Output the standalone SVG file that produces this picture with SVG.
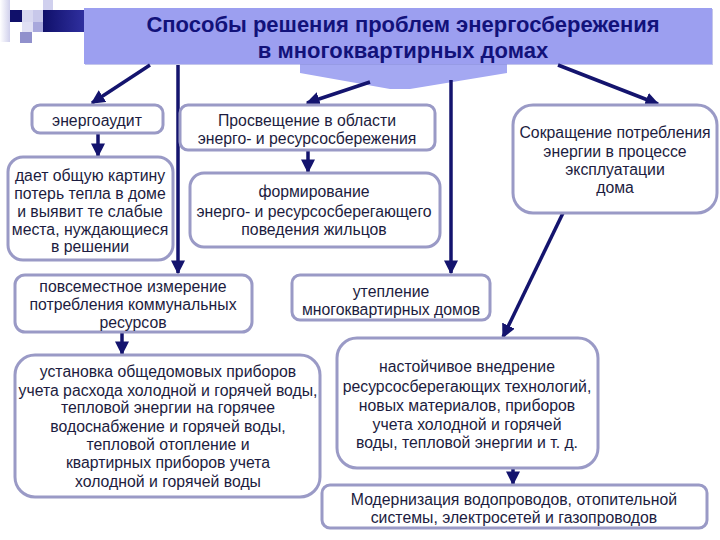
<svg xmlns="http://www.w3.org/2000/svg" width="720" height="540" viewBox="0 0 720 540">
<defs>
<marker id="ah" viewBox="0 0 10 10" refX="9" refY="5" markerWidth="4" markerHeight="4" orient="auto" markerUnits="strokeWidth">
<path d="M0,0 L10,5 L0,10 z" fill="#14146e"/>
</marker>
<linearGradient id="bar" x1="0" y1="0" x2="1" y2="0">
<stop offset="0" stop-color="#10106a"/>
<stop offset="1" stop-color="#3030a0"/>
</linearGradient>
<linearGradient id="fade" x1="0" y1="0" x2="1" y2="0">
<stop offset="0" stop-color="#ffffff"/>
<stop offset="1" stop-color="#d0d0ec"/>
</linearGradient>
</defs>
<style>
.box{fill:#fff;stroke:#9a9ac6;stroke-width:3}
.t{font-family:"Liberation Sans",Arial,sans-serif;font-size:15.8px;fill:#1c1c40;text-anchor:middle}
.title{font-family:"Liberation Sans",Arial,sans-serif;font-size:22px;font-weight:bold;fill:#12127a;text-anchor:middle}
.c{stroke:#14146e;stroke-width:3.5;fill:none;marker-end:url(#ah)}
</style>
<rect width="720" height="540" fill="#fff"/>
<g id="decor">
<rect x="0" y="0" width="10" height="42" fill="url(#fade)"/>
<rect x="10" y="10" width="12" height="12" fill="#10106a"/>
<rect x="22" y="10" width="11" height="12" fill="#d8d8f0"/>
<rect x="33" y="10" width="10" height="12" fill="#c8c8ea"/>
<rect x="43" y="0" width="10" height="10" fill="#d0d0ee"/>
<rect x="43" y="10" width="10" height="12" fill="#b8b8e4"/>
<rect x="22" y="22" width="11" height="10" fill="#e0e0f4"/>
<rect x="33" y="22" width="10" height="10" fill="#a8a8dc"/>
<rect x="20" y="32" width="12" height="11" fill="#9090cc"/>
<rect x="43" y="10" width="42" height="22" fill="url(#bar)"/>
</g>
<g id="title">
<path d="M300,64 L507,64 L507,73 L410,89 L390,89 L300,73 z" fill="#a4a8f2"/>
<rect x="85" y="9" width="628" height="56" fill="#8a8ed8" opacity="0.5"/>
<rect x="84" y="8" width="628" height="56" fill="#9c9ff0"/>
<text class="title" x="403" y="32">Способы решения проблем энергосбережения</text>
<text class="title" x="403" y="58">в многоквартирных домах</text>
</g>
<g id="connectors">
<line class="c" x1="150" y1="65" x2="92" y2="103"/>
<line class="c" x1="178" y1="65" x2="178" y2="273"/>
<line class="c" x1="370" y1="82" x2="307" y2="103"/>
<line class="c" x1="451" y1="80" x2="451" y2="273"/>
<line class="c" x1="558" y1="65" x2="658" y2="104"/>
<line class="c" x1="563" y1="213" x2="503" y2="337"/>
<line class="c" x1="98" y1="133" x2="98" y2="156"/>
<line class="c" x1="308" y1="150" x2="308" y2="172"/>
<line class="c" x1="122" y1="332" x2="122" y2="354"/>
<line class="c" x1="513" y1="468" x2="513" y2="484"/>
</g>
<g id="n1">
<rect class="box" x="32" y="105" width="131" height="28" rx="8"/>
<text class="t" x="97" y="126">энергоаудит</text>
</g>
<g id="n2">
<rect class="box" x="8" y="157" width="165" height="103" rx="15"/>
<text class="t" x="90" y="181">дает общую картину</text>
<text class="t" x="90" y="199">потерь тепла в доме</text>
<text class="t" x="90" y="217">и выявит те слабые</text>
<text class="t" x="90" y="235">места, нуждающиеся</text>
<text class="t" x="90" y="252">в решении</text>
</g>
<g id="n3">
<rect class="box" x="180" y="105" width="255" height="45" rx="8"/>
<text class="t" x="307" y="126">Просвещение в области</text>
<text class="t" x="307" y="144">энерго- и ресурсосбережения</text>
</g>
<g id="n4">
<rect class="box" x="190" y="173" width="250" height="74" rx="14"/>
<text class="t" x="314" y="197">формирование</text>
<text class="t" x="314" y="217">энерго- и ресурсосберегающего</text>
<text class="t" x="314" y="235">поведения жильцов</text>
</g>
<g id="n5">
<rect class="box" x="513" y="105" width="204" height="108" rx="20"/>
<text class="t" x="615" y="138">Сокращение потребления</text>
<text class="t" x="615" y="157">энергии в процессе</text>
<text class="t" x="615" y="175">эксплуатации</text>
<text class="t" x="615" y="193">дома</text>
</g>
<g id="n6">
<rect class="box" x="15" y="275" width="237" height="57" rx="10"/>
<text class="t" x="133" y="292">повсеместное измерение</text>
<text class="t" x="133" y="310">потребления коммунальных</text>
<text class="t" x="133" y="328">ресурсов</text>
</g>
<g id="n7">
<rect class="box" x="292" y="275" width="198" height="45" rx="8"/>
<text class="t" x="391" y="297">утепление</text>
<text class="t" x="391" y="315">многоквартирных домов</text>
</g>
<g id="n8">
<rect class="box" x="15" y="355" width="305" height="142" rx="20"/>
<text class="t" x="168" y="377">установка общедомовых приборов</text>
<text class="t" x="168" y="396">учета расхода холодной и горячей воды,</text>
<text class="t" x="168" y="413">тепловой энергии на горячее</text>
<text class="t" x="168" y="432">водоснабжение и горячей воды,</text>
<text class="t" x="168" y="450">тепловой отопление и</text>
<text class="t" x="168" y="468">квартирных приборов учета</text>
<text class="t" x="168" y="487">холодной и горячей воды</text>
</g>
<g id="n9">
<rect class="box" x="337" y="338" width="261" height="130" rx="20"/>
<text class="t" x="467" y="372">настойчивое внедрение</text>
<text class="t" x="467" y="392">ресурсосберегающих технологий,</text>
<text class="t" x="467" y="411">новых материалов, приборов</text>
<text class="t" x="467" y="430">учета холодной и горячей</text>
<text class="t" x="467" y="448">воды, тепловой энергии и т. д.</text>
</g>
<g id="n10">
<rect class="box" x="322" y="485" width="385" height="43" rx="8"/>
<text class="t" x="514" y="505">Модернизация водопроводов, отопительной</text>
<text class="t" x="514" y="523">системы, электросетей и газопроводов</text>
</g>
</svg>
